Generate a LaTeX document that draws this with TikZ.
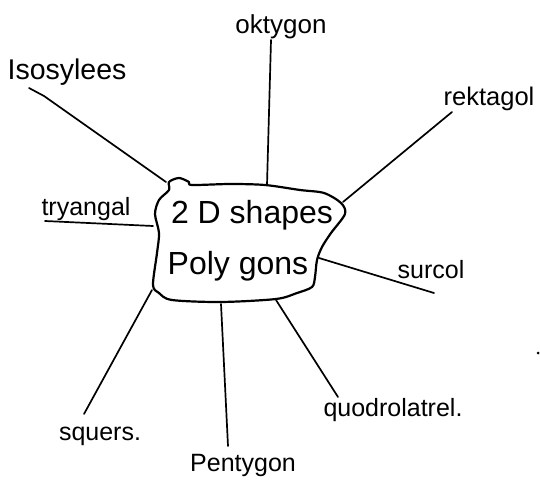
\documentclass[tikz,border=0pt]{standalone}
\usepackage{fontspec}
\setmainfont{Liberation Sans}
\begin{document}
\begin{tikzpicture}[x=1pt,y=-1pt,
  stroke/.style={line width=1.7pt,line cap=round,line join=round},
  lbl/.style={inner sep=0pt,font=\fontsize{24}{24}\selectfont},
  big/.style={inner sep=0pt,font=\fontsize{32}{32}\selectfont}]
\useasboundingbox (0,0) rectangle (540,481);
% central blob
\draw[stroke,line width=2.2pt] plot[smooth cycle,tension=0.5] coordinates {
 (169,182) (179,178) (189,182) (192,185) (230,184) (265,185) (300,190) (324,193) (341,203) (345,214)
 (331,233) (322,247) (317,260) (315,277) (312,287) (297,293) (276,299) (221,302) (172,300) (159,293)
 (153,285) (157,253) (159,233) (155,214) (159,200) (169,190)};
\node[big] (c1) at (252,215) {2 D shapes};
\node[big] (c2) at (238,266) {Poly gons};
% spoke endpoints on blob
\coordinate (bIso) at (166,182);
\coordinate (bOkt) at (267,185);
\coordinate (bRek) at (343,202);
\coordinate (bTri) at (153,226);
\coordinate (bSur) at (319,258);
\coordinate (bQuo) at (276,300);
\coordinate (bPen) at (221,304);
\coordinate (bSqu) at (152,290);
% labels
\node[lbl,font=\fontsize{28.5}{28.5}\selectfont] (iso) at (67,72) {Isosylees};
\node[lbl,font=\fontsize{26}{26}\selectfont] (okt) at (281,27) {oktygon};
\node[lbl,font=\fontsize{25.5}{25.5}\selectfont] (rek) at (489,99) {rektagol};
\node[lbl,font=\fontsize{25}{25}\selectfont] (tri) at (86,209) {tryangal};
\node[lbl,font=\fontsize{25}{25}\selectfont] (sur) at (431,270) {surcol};
\node[lbl,font=\fontsize{25}{25}\selectfont] (quo) at (393,410) {quodrolatrel.};
\node[lbl,font=\fontsize{25}{25}\selectfont] (squ) at (100,436) {squers.};
\node[lbl,font=\fontsize{25}{25}\selectfont] (pen) at (243,465) {Pentygon};
% free ends
\coordinate (eIso) at (29,88);
\coordinate (eOkt) at (271,40);
\coordinate (eRek) at (452,112);
\coordinate (eTri) at (45,221);
\coordinate (eSur) at (434,293);
\coordinate (eQuo) at (338,397);
\coordinate (ePen) at (228,446);
\coordinate (eSqu) at (84,414);
\draw[stroke] (eIso) -- (44,96) -- (bIso);
\draw[stroke] (eOkt) -- (bOkt);
\draw[stroke] (eRek) -- (bRek);
\draw[stroke] (eTri) -- (bTri);
\draw[stroke] (bSur) -- (eSur);
\draw[stroke] (bQuo) -- (eQuo);
\draw[stroke] (bPen) -- (ePen);
\draw[stroke] (bSqu) -- (eSqu);
\fill (538,353) circle (1.5);
\end{tikzpicture}
\end{document}
